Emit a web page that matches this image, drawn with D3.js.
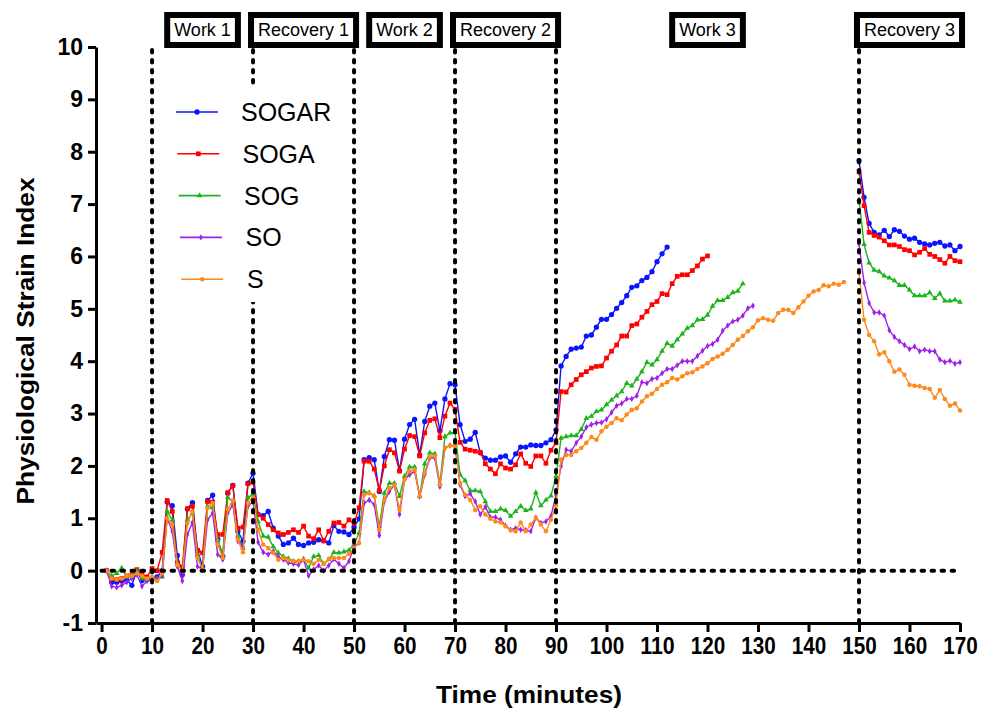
<!DOCTYPE html>
<html>
<head>
<meta charset="utf-8">
<script src="https://cdn.jsdelivr.net/npm/d3@7"></script>
<style>
  body { margin: 0; background: #fff; }
  text { font-family: "Liberation Sans", Arial, sans-serif; }
</style>
</head>
<body>
<div class="chart"></div>
<script>
// PSI per minute, first part starts at minute 1, recovery 3 starts at minute 150
const sogarMain = [0, -0.22, -0.22, -0.2, -0.18, -0.28, 0, -0.19, -0.17, -0.16, -0.12, 0,
  1.31, 1.24, 0.29, -0.08, 1.18, 1.3, 0.39, 0.08, 1.34, 1.44, 0.6, 0.27, 1.48, 1.63, 0.75, 0.56, 1.67, 1.86,
  1.07, 1.05, 1.13, 0.81, 0.66, 0.5, 0.53, 0.62, 0.5, 0.48, 0.53, 0.54, 0.59, 0.57, 0.53, 0.86, 0.75, 0.74, 0.69, 0.83,
  0.99, 2.12, 2.16, 2.12, 1.51, 2.18, 2.5, 2.49, 1.91, 2.51, 2.79, 2.89, 2.21, 2.85, 3.14, 3.2, 2.67, 3.28, 3.57, 3.55,
  2.79, 2.47, 2.51, 2.64, 2.25, 2.15, 2.11, 2.11, 2.17, 2.19, 2.07, 2.23, 2.36, 2.36, 2.4, 2.39, 2.39, 2.44, 2.5, 2.69,
  3.91, 4.09, 4.23, 4.25, 4.27, 4.48, 4.5, 4.65, 4.8, 4.8, 4.89, 5.01, 5.12, 5.25, 5.41, 5.44, 5.54, 5.6, 5.71, 5.9,
  6.05, 6.18];
const sogaMain = [0, -0.15, -0.17, -0.15, -0.1, -0.08, 0.02, -0.07, -0.12, 0.04, 0, 0.35,
  1.34, 1.13, 0.15, 0.07, 1.18, 1.23, 0.38, 0.34, 1.32, 1.31, 0.69, 0.69, 1.49, 1.62, 0.81, 0.83, 1.66, 1.69,
  1.07, 1.0, 0.88, 0.78, 0.72, 0.69, 0.73, 0.78, 0.73, 0.85, 0.66, 0.61, 0.78, 0.57, 0.75, 0.91, 0.92, 0.85, 0.97, 0.9,
  1.2, 2.09, 2.09, 1.94, 1.53, 2.0, 2.31, 2.25, 1.9, 2.32, 2.58, 2.56, 2.19, 2.63, 2.87, 2.9, 2.54, 2.95, 3.2, 3.08,
  2.45, 2.32, 2.3, 2.28, 2.26, 2.04, 1.94, 1.85, 2.04, 1.96, 1.94, 2.02, 2.23, 2.05, 1.99, 2.19, 2.19, 2.05, 2.3, 2.44,
  3.42, 3.41, 3.55, 3.65, 3.74, 3.8, 3.87, 3.9, 3.91, 4.06, 4.19, 4.31, 4.48, 4.48, 4.68, 4.71, 4.84, 4.95, 5.08, 5.14,
  5.29, 5.27, 5.48, 5.62, 5.65, 5.65, 5.73, 5.82, 5.95, 6.01];
const sogMain = [0, -0.1, -0.05, 0.05, -0.12, -0.1, 0, -0.15, -0.17, -0.15, -0.15, -0.12,
  1.13, 0.97, 0.13, -0.01, 0.97, 1.1, 0.3, 0.02, 1.23, 1.2, 0.59, 0.31, 1.4, 1.31, 0.66, 0.43, 1.39, 1.46,
  0.94, 0.66, 0.64, 0.46, 0.34, 0.27, 0.23, 0.18, 0.18, 0.22, 0.05, 0.27, 0.29, 0.13, 0.21, 0.35, 0.34, 0.36, 0.39, 0.5,
  0.72, 1.51, 1.49, 1.43, 0.85, 1.48, 1.67, 1.67, 1.42, 1.8, 1.98, 1.98, 1.42, 2.04, 2.25, 2.23, 1.66, 2.56, 2.63, 2.64,
  1.83, 1.72, 1.53, 1.53, 1.51, 1.32, 1.13, 1.13, 1.18, 1.15, 1.04, 1.13, 1.23, 1.15, 1.18, 1.49, 1.24, 1.35, 1.43, 1.8,
  2.53, 2.56, 2.58, 2.58, 2.7, 2.91, 2.95, 3.04, 3.07, 3.17, 3.26, 3.34, 3.42, 3.58, 3.53, 3.66, 3.8, 3.98, 3.93, 4.03,
  4.19, 4.34, 4.29, 4.41, 4.52, 4.63, 4.68, 4.79, 4.8, 4.88, 5.05, 5.16, 5.16, 5.22, 5.31, 5.34, 5.48];
const soMain = [0, -0.3, -0.32, -0.28, -0.22, -0.15, -0.08, -0.3, -0.2, -0.18, -0.15, -0.1,
  1.0, 0.75, 0.08, -0.2, 0.69, 0.92, 0.08, 0.02, 0.97, 1.1, 0.31, 0.21, 1.1, 1.26, 0.56, 0.46, 1.23, 1.32,
  0.54, 0.35, 0.31, 0.37, 0.27, 0.21, 0.15, 0.13, 0.11, 0.21, -0.1, 0.02, 0.1, 0, 0.1, 0.22, 0.13, 0.05, 0.18, 0.46,
  0.53, 1.29, 1.35, 1.26, 0.67, 1.32, 1.51, 1.64, 1.07, 1.74, 1.83, 1.9, 1.41, 1.83, 2.15, 2.15, 1.6, 2.34, 2.39, 2.39,
  1.64, 1.42, 1.47, 1.32, 1.07, 1.22, 1.02, 1.02, 0.97, 0.86, 0.78, 0.81, 0.78, 0.77, 0.75, 1.01, 0.91, 0.94, 1.04, 1.45,
  2.0, 2.31, 2.28, 2.44, 2.56, 2.74, 2.79, 2.82, 2.83, 2.89, 3.02, 3.15, 3.19, 3.28, 3.28, 3.34, 3.6, 3.58, 3.66, 3.68,
  3.77, 3.85, 3.85, 3.92, 4.0, 4.0, 4.0, 4.1, 4.2, 4.29, 4.33, 4.41, 4.58, 4.68, 4.76, 4.79, 4.87, 5.01, 5.06];
const sMain = [0, -0.15, -0.17, -0.15, -0.1, -0.1, -0.05, -0.1, -0.15, -0.12, -0.2, -0.05,
  1.0, 0.88, 0.11, -0.01, 0.91, 1.13, 0.24, 0.02, 1.2, 1.29, 0.5, 0.24, 1.17, 1.34, 0.59, 0.35, 1.29, 1.39,
  0.78, 0.5, 0.43, 0.34, 0.21, 0.24, 0.2, 0.18, 0.18, 0.21, 0.18, 0.13, 0.21, 0.13, 0.22, 0.24, 0.24, 0.24, 0.32, 0.43,
  0.53, 1.45, 1.48, 1.42, 0.78, 1.35, 1.58, 1.64, 1.16, 1.74, 1.9, 1.93, 1.42, 1.86, 2.18, 2.19, 1.64, 2.34, 2.39, 2.37,
  1.67, 1.45, 1.35, 1.16, 1.23, 1.07, 0.99, 0.94, 0.92, 0.85, 0.77, 0.75, 0.92, 0.75, 0.88, 1.01, 0.88, 0.75, 0.97, 1.24,
  2.12, 2.21, 2.21, 2.28, 2.34, 2.44, 2.55, 2.5, 2.66, 2.75, 2.82, 2.91, 2.87, 2.98, 3.07, 3.1, 3.23, 3.33, 3.38, 3.47,
  3.55, 3.6, 3.68, 3.65, 3.71, 3.77, 3.79, 3.85, 3.9, 3.96, 4.04, 4.09, 4.14, 4.22, 4.31, 4.41, 4.48, 4.57, 4.65, 4.78,
  4.82, 4.79, 4.77, 4.92, 4.98, 4.98, 4.92, 5.03, 5.14, 5.25, 5.33, 5.36, 5.45, 5.43, 5.48, 5.46, 5.51];

const sogarRec3 = [7.83, 7.13, 6.63, 6.46, 6.41, 6.5, 6.38, 6.51, 6.48, 6.39, 6.33, 6.35, 6.27, 6.24, 6.22, 6.25, 6.27, 6.2, 6.22, 6.11, 6.19];
const sogaRec3 = [7.62, 6.97, 6.46, 6.4, 6.37, 6.3, 6.22, 6.22, 6.19, 6.13, 6.11, 6.03, 6.08, 6.15, 6.04, 6.0, 5.94, 5.87, 6.0, 5.92, 5.9];
const sogRec3 = [7.08, 6.23, 5.88, 5.74, 5.71, 5.63, 5.59, 5.54, 5.45, 5.45, 5.36, 5.25, 5.25, 5.25, 5.31, 5.2, 5.29, 5.15, 5.15, 5.17, 5.13];
const soRec3 = [6.24, 5.5, 5.11, 4.93, 4.93, 4.87, 4.59, 4.46, 4.38, 4.31, 4.23, 4.28, 4.19, 4.22, 4.19, 4.19, 4.03, 3.98, 4.01, 3.95, 3.98];
const sRec3 = [5.69, 4.79, 4.5, 4.38, 4.13, 4.17, 4.0, 3.8, 3.84, 3.74, 3.55, 3.53, 3.52, 3.49, 3.47, 3.3, 3.45, 3.28, 3.15, 3.19, 3.06];

const seriesNames = ["SOGAR", "SOGA", "SOG", "SO", "S"];
const phaseNames = ["Work 1", "Recovery 1", "Work 2", "Recovery 2", "Work 3", "Recovery 3"];
const phaseStart = [10, 30, 50, 70, 90, 150];
const phaseEnd = [30, 50, 70, 90, 150, 170];
const xTicks = [0, 10, 20, 30, 40, 50, 60, 70, 80, 90, 100, 110, 120, 130, 140, 150, 160, 170];
const yTicks = [-1, 0, 1, 2, 3, 4, 5, 6, 7, 8, 9, 10];

const mainStart = 1;
const rec3Start = 150;

const colors = ["#0a14ff", "#ff0000", "#1cb41c", "#a020e8", "#ff8a1c"];
const shapes = [d3.symbolCircle, d3.symbolSquare, d3.symbolTriangle, d3.symbolDiamond, d3.symbolCircle];
const shapeSize = [22, 22, 14, 12, 16];
const mainData = [sogarMain, sogaMain, sogMain, soMain, sMain];
const rec3Data = [sogarRec3, sogaRec3, sogRec3, soRec3, sRec3];

const width = 985;
const height = 711;

const svg = d3
  .select(".chart")
  .append("svg")
  .attr("width", width)
  .attr("height", height);

const xScale = d3.scaleLinear().domain([-1.1, 170]).range([96, 960]);
const yScale = d3.scaleLinear().domain([-1, 10]).range([623, 47]);

// Axes
const yAxisG = svg
  .append("g")
  .attr("class", "axis y-axis")
  .attr("transform", "translate(96,0)")
  .call(
    d3.axisLeft(yScale).tickValues(yTicks).tickSize(8).tickSizeOuter(0).tickPadding(5)
      .tickFormat((d) => String(d)) // plain hyphen, not the unicode minus
  );
yAxisG.select(".domain").attr("stroke-width", 3);
yAxisG.selectAll(".tick line").attr("stroke-width", 3);
yAxisG
  .selectAll(".tick text")
  .attr("font-family", "Liberation Sans, Arial, sans-serif")
  .attr("font-size", 23)
  .attr("font-weight", "bold")
  .attr("fill", "#000");

const xAxisG = svg
  .append("g")
  .attr("class", "axis x-axis")
  .attr("transform", "translate(0,623)")
  .call(d3.axisBottom(xScale).tickValues(xTicks).tickSize(9).tickSizeOuter(0).tickPadding(6));
xAxisG.select(".domain").attr("stroke-width", 3);
xAxisG.selectAll(".tick line").attr("stroke-width", 3);
xAxisG
  .selectAll(".tick text")
  .attr("font-family", "Liberation Sans, Arial, sans-serif")
  .attr("font-size", 23)
  .attr("font-weight", "bold")
  .attr("fill", "#000")
  .attr("textLength", (d) => String(d).length * 11.5)
  .attr("lengthAdjust", "spacingAndGlyphs");

// Axis titles
svg
  .append("text")
  .attr("x", 529)
  .attr("y", 703)
  .attr("text-anchor", "middle")
  .attr("font-size", 24)
  .attr("font-weight", "bold")
  .attr("textLength", 186)
  .attr("lengthAdjust", "spacingAndGlyphs")
  .text("Time (minutes)");

svg
  .append("text")
  .attr("transform", "translate(34,341) rotate(-90)")
  .attr("text-anchor", "middle")
  .attr("font-size", 24)
  .attr("font-weight", "bold")
  .attr("textLength", 327)
  .attr("lengthAdjust", "spacingAndGlyphs")
  .text("Physiological Strain Index");

// Series lines and markers
const line = d3
  .line()
  .x((d) => xScale(d.t))
  .y((d) => yScale(d.v));

const plot = svg.append("g");
mainData.forEach((vals, i) => {
  const segs = [
    vals.map((v, k) => ({ t: mainStart + k, v: v })),
    rec3Data[i].map((v, k) => ({ t: rec3Start + k, v: v }))
  ];
  const g = plot.append("g");
  segs.forEach((seg) => {
    g.append("path")
      .datum(seg)
      .attr("d", line)
      .attr("fill", "none")
      .attr("stroke", colors[i])
      .attr("stroke-width", 1.4);
    g.selectAll(null)
      .data(seg)
      .enter()
      .append("path")
      .attr("d", d3.symbol().type(shapes[i]).size(shapeSize[i]))
      .attr("transform", (d) => `translate(${xScale(d.t)},${yScale(d.v)})`)
      .attr("fill", colors[i]);
  });
});

// Dotted reference lines
const dotted = svg.append("g").attr("stroke", "#000").attr("stroke-width", 4)
  .attr("stroke-dasharray", "2.5,7.5").attr("stroke-linecap", "round");
dotted
  .selectAll("line.v")
  .data([10, 30, 50, 70, 90, 150])
  .enter()
  .append("line")
  .attr("x1", (d) => xScale(d))
  .attr("x2", (d) => xScale(d))
  .attr("y1", yScale(10) + 3)
  .attr("y2", yScale(-1));
dotted
  .append("line")
  .attr("x1", xScale(0))
  .attr("x2", xScale(170))
  .attr("y1", yScale(0))
  .attr("y2", yScale(0));

// Legend
const legend = svg.append("g");
legend
  .append("rect")
  .attr("x", 168)
  .attr("y", 88)
  .attr("width", 178)
  .attr("height", 214)
  .attr("fill", "#fff");
seriesNames.forEach((name, i) => {
  const ly = 112 + i * 41.8;
  const lx = 176 + i * 1.3;
  legend
    .append("line")
    .attr("x1", lx)
    .attr("x2", lx + 42)
    .attr("y1", ly)
    .attr("y2", ly)
    .attr("stroke", colors[i])
    .attr("stroke-width", 1.6);
  legend
    .append("path")
    .attr("d", d3.symbol().type(shapes[i]).size(shapeSize[i]))
    .attr("transform", `translate(${lx + 21},${ly})`)
    .attr("fill", colors[i]);
  legend
    .append("text")
    .attr("x", 241 + i * 1.5)
    .attr("y", ly + 9)
    .attr("font-size", 25)
    .text(name);
});

// Phase boxes at the top
const boxes = svg.append("g");
phaseNames.forEach((name, i) => {
  const cx = xScale((phaseStart[i] + phaseEnd[i]) / 2);
  const t = boxes
    .append("text")
    .attr("x", cx)
    .attr("y", 36)
    .attr("text-anchor", "middle")
    .attr("font-size", 18)
    .text(name);
  const w = t.node().getComputedTextLength() + 14;
  boxes
    .insert("rect", "text")
    .attr("x", cx - w / 2)
    .attr("y", 15)
    .attr("width", w)
    .attr("height", 30)
    .attr("fill", "#fff")
    .attr("stroke", "#000")
    .attr("stroke-width", 6);
});
</script>
</body>
</html>
